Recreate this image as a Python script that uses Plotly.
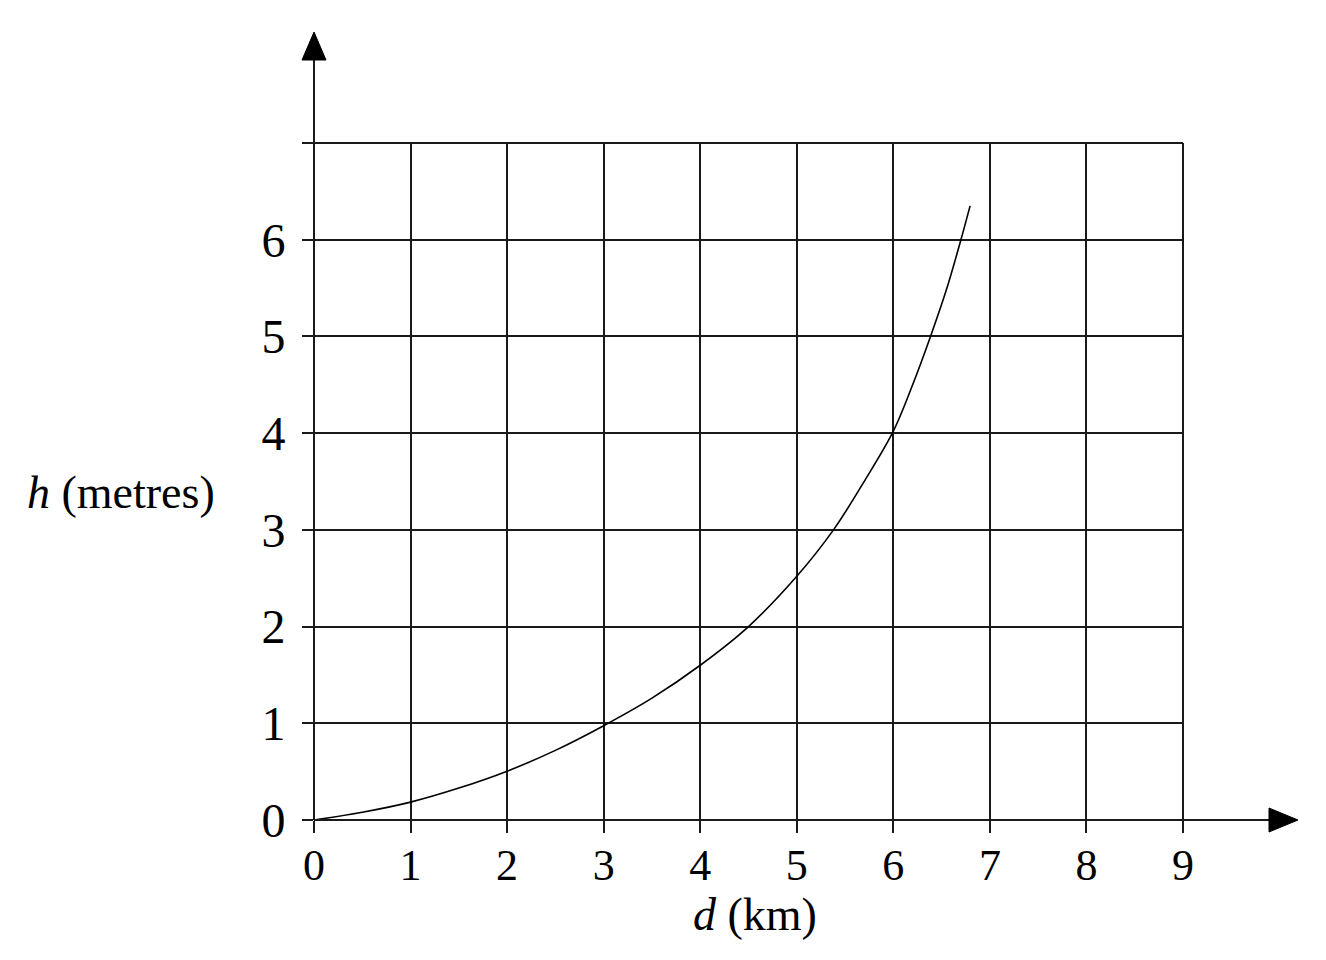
import plotly.graph_objects as go

# data
d_km = [0, 0.5, 1, 1.5, 2, 2.5, 3, 3.5, 4, 4.5, 5, 5.38, 5.71, 6, 6.2, 6.385, 6.555, 6.70, 6.795]
h_m = [0, 0.08, 0.185, 0.33, 0.505, 0.72, 0.975, 1.26, 1.60, 2.0, 2.52, 3.0, 3.52, 4.02, 4.5, 5.0, 5.5, 6.0, 6.35]
x_ticks = [0, 1, 2, 3, 4, 5, 6, 7, 8, 9]
x_labels = ["0", "1", "2", "3", "4", "5", "6", "7", "8", "9"]
y_ticks = [0, 1, 2, 3, 4, 5, 6, 7]
y_labels = ["0", "1", "2", "3", "4", "5", "6", ""]

OFF = 8  # page margin around the figure
W, H = 1318, 952
L, T = 306, 135
pw, ph = 869, 677
R, B = W - L - pw, H - T - ph
FONT = "Liberation Serif"
INK = "#1a1a1a"

fig = go.Figure()
fig.add_trace(go.Scatter(x=d_km, y=h_m, mode="lines",
                         line=dict(color="black", width=1.6, shape="spline", smoothing=1.0),
                         hoverinfo="skip", showlegend=False))

def px2paper_x(px):
    return (px - OFF - L) / pw

def px2paper_y(py):
    return (H - B - (py - OFF)) / ph

shapes = [
    # boundary grid lines (top and right edges of the grid)
    dict(type="line", xref="paper", yref="paper", x0=0, x1=1, y0=1, y1=1,
         line=dict(color=INK, width=2)),
    dict(type="line", xref="paper", yref="paper", x0=1, x1=1, y0=0, y1=1,
         line=dict(color=INK, width=2)),
    # x axis extension and arrow head
    dict(type="line", xref="paper", yref="paper", x0=0, x1=px2paper_x(1272), y0=0, y1=0,
         line=dict(color=INK, width=2)),
    dict(type="path", xref="paper", yref="paper",
         path=f"M {px2paper_x(1269)} {px2paper_y(808)} L {px2paper_x(1298)} {px2paper_y(820)} L {px2paper_x(1269)} {px2paper_y(832)} Z",
         fillcolor="black", line=dict(color="black", width=1)),
    # y axis extension and arrow head
    dict(type="line", xref="paper", yref="paper", x0=0, x1=0, y0=0, y1=px2paper_y(58),
         line=dict(color=INK, width=2)),
    dict(type="path", xref="paper", yref="paper",
         path=f"M {px2paper_x(302)} {px2paper_y(60)} L {px2paper_x(314)} {px2paper_y(32)} L {px2paper_x(326)} {px2paper_y(60)} Z",
         fillcolor="black", line=dict(color="black", width=1)),
]

fig.update_layout(
    width=W, height=H,
    margin=dict(l=L, r=R, t=T, b=B, pad=0),
    paper_bgcolor="white", plot_bgcolor="white",
    shapes=shapes,
    annotations=[
        dict(text="<i>h</i> (metres)", xref="paper", yref="paper",
             x=px2paper_x(121), y=px2paper_y(492), showarrow=False,
             xanchor="center", yanchor="middle",
             font=dict(family=FONT, size=46, color="black")),
        dict(text="<i>d</i> (km)", xref="paper", yref="paper",
             x=px2paper_x(755), y=px2paper_y(914), showarrow=False,
             xanchor="center", yanchor="middle",
             font=dict(family=FONT, size=46, color="black")),
    ],
)
fig.update_xaxes(range=[0, 9], tickvals=x_ticks, ticktext=x_labels,
                 showgrid=True, gridcolor=INK, gridwidth=2,
                 zeroline=False, showline=False,
                 ticks="outside", ticklen=12, tickwidth=2, tickcolor=INK,
                 ticklabelstandoff=-6,
                 tickfont=dict(family=FONT, size=44, color="black"),
                 fixedrange=True)
fig.update_yaxes(range=[0, 7], tickvals=y_ticks, ticktext=y_labels,
                 showgrid=True, gridcolor=INK, gridwidth=2,
                 zeroline=False, showline=False,
                 ticks="outside", ticklen=11, tickwidth=2, tickcolor=INK,
                 ticklabelstandoff=7,
                 tickfont=dict(family=FONT, size=48, color="black"),
                 fixedrange=True)

fig.write_html("out.html", config={"displayModeBar": False})
